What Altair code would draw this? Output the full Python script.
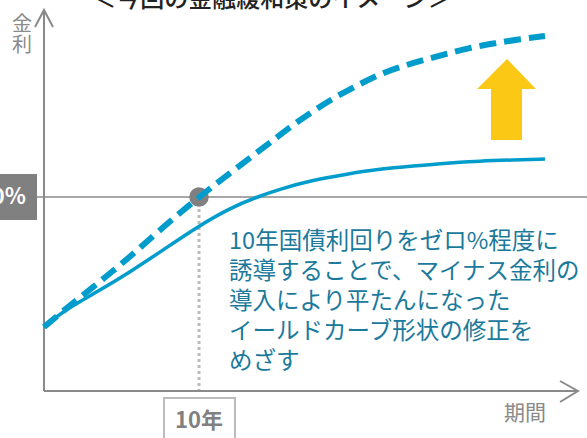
import altair as alt
import pandas as pd

# ---- data (period in years, rate in %) ----
solid_period = [0, 1.23, 3.42, 5.55, 7.68, 9.87, 12.0, 13.74, 15.23, 17.35, 19.55, 21.68, 23.81, 26.0, 28.13, 30.26, 32.32]
solid_rate = [-1.30, -1.14, -0.95, -0.75, -0.53, -0.30, -0.11, 0.0, 0.08, 0.17, 0.23, 0.28, 0.31, 0.34, 0.36, 0.37, 0.38]

dash_period = [0, 1.23, 3.42, 5.55, 7.68, 10.0, 12.0, 14.13, 15.87, 17.35, 18.90, 20.39, 21.68, 23.16, 24.71, 26.19, 27.68, 29.23, 30.71, 32.32]
dash_rate = [-1.30, -1.14, -0.87, -0.60, -0.30, 0.0, 0.24, 0.49, 0.70, 0.86, 1.01, 1.13, 1.23, 1.31, 1.38, 1.44, 1.50, 1.54, 1.58, 1.61]

point_period = [10.0]
point_rate = [0.0]

note_lines = [
    "10年国債利回りをゼロ%程度に",
    "誘導することで、マイナス金利の",
    "導入により平たんになった",
    "イールドカーブ形状の修正を",
    "めざす",
]
note_rate = [-0.45, -0.75, -1.05, -1.35, -1.65]
note_period = 11.94

title_text = "＜今回の金融緩和策のイメージ＞"
x_label = "期間"
y_label = ["金", "利"]
zero_label = "0%"
tick_label = "10年"

# frame geometry in data units
x_min, x_max = -2.839, 35.032
y_min, y_max = -2.41, 1.97
axis_x_end = 34.45
axis_y_bottom = -1.94
axis_y_top = 1.87

BLUE = "#009CCB"
GRAY = "#8a8a8a"
TEXT_BLUE = "#1b7a9c"
FONT = "Noto Sans CJK JP"

xs = alt.Scale(domain=[x_min, x_max], nice=False, zero=False)
ys = alt.Scale(domain=[y_min, y_max], nice=False, zero=False)


def X(f="x"):
    return alt.X(f, type="quantitative", scale=xs, axis=None)


def Y(f="y"):
    return alt.Y(f, type="quantitative", scale=ys, axis=None)


# zero line
zero_line = alt.Chart(pd.DataFrame({"x": [-0.45, x_max], "y": [0, 0]})).mark_line(
    color=GRAY, strokeWidth=1.5).encode(x=X(), y=Y())

# 0% box
zero_box = alt.Chart(pd.DataFrame({"x": [x_min], "x2": [-0.45], "y": [0.23], "y2": [-0.23]})).mark_rect(
    color="#808080").encode(x=X(), x2="x2", y=Y(), y2="y2")
zero_text = alt.Chart(pd.DataFrame({"x": [-1.16], "y": [0.0], "t": [zero_label]})).mark_text(
    align="right", baseline="middle", font=FONT, fontSize=22, fontWeight="bold", color="white"
).encode(x=X(), y=Y(), text="t:N")

# axes with arrows
y_axis = alt.Chart(pd.DataFrame({"x": [0, 0], "y": [axis_y_bottom, axis_y_top]})).mark_line(
    color=GRAY, strokeWidth=2).encode(x=X(), y=Y())
y_arrow = alt.Chart(pd.DataFrame({"x": [-0.58, 0, 0.58], "y": [1.70, axis_y_top, 1.70], "o": [0, 1, 2]})).mark_line(
    color=GRAY, strokeWidth=2).encode(x=X(), y=Y(), order="o:Q")
x_axis = alt.Chart(pd.DataFrame({"x": [0, axis_x_end], "y": [axis_y_bottom, axis_y_bottom]})).mark_line(
    color=GRAY, strokeWidth=2).encode(x=X(), y=Y())
x_arrow = alt.Chart(pd.DataFrame({"x": [33.29, axis_x_end, 33.29], "y": [-1.84, axis_y_bottom, -2.05], "o": [0, 1, 2]})).mark_line(
    color=GRAY, strokeWidth=2).encode(x=X(), y=Y(), order="o:Q")

# dotted guide at 10 years
guide = alt.Chart(pd.DataFrame({"x": [10, 10], "y": [-0.12, -1.98]})).mark_line(
    color="#bbbbbb", strokeWidth=3, strokeDash=[3, 3]).encode(x=X(), y=Y())

# 10年 box
tick_box = alt.Chart(pd.DataFrame({"x": [7.74], "x2": [12.32], "y": [-2.01], "y2": [-2.7]})).mark_rect(
    fill="white", stroke="#bbbbbb", strokeWidth=2).encode(x=X(), x2="x2", y=Y(), y2="y2")
tick_text = alt.Chart(pd.DataFrame({"x": [10.0], "y": [-2.24], "t": [tick_label]})).mark_text(
    align="center", baseline="middle", font=FONT, fontSize=22, fontWeight="bold", color="#808080"
).encode(x=X(), y=Y(), text="t:N")

# curves
solid = alt.Chart(pd.DataFrame({"x": solid_period, "y": solid_rate})).mark_line(
    color=BLUE, strokeWidth=3.5, interpolate="basis").encode(x=X(), y=Y())
point = alt.Chart(pd.DataFrame({"x": point_period, "y": point_rate})).mark_point(
    filled=True, color="#808080", opacity=1, size=380, shape="circle").encode(x=X(), y=Y())
dashed = alt.Chart(pd.DataFrame({"x": dash_period, "y": dash_rate})).mark_line(
    color=BLUE, strokeWidth=6, strokeDash=[17, 8], interpolate="basis").encode(x=X(), y=Y())

# yellow arrow
arrow_head = alt.Chart(pd.DataFrame({"x": [27.94, 29.87, 31.74], "y": [1.08, 1.38, 1.08], "y2": [1.08, 1.08, 1.08]})).mark_area(
    color="#FBC816", opacity=1).encode(x=X(), y=Y(), y2="y2")
arrow_shaft = alt.Chart(pd.DataFrame({"x": [28.84], "x2": [30.84], "y": [1.09], "y2": [0.57]})).mark_rect(
    color="#FBC816").encode(x=X(), x2="x2", y=Y(), y2="y2")

# texts
note = alt.Chart(pd.DataFrame({"x": [note_period] * len(note_lines), "y": note_rate, "t": note_lines})).mark_text(
    align="left", baseline="middle", font=FONT, fontSize=23.5, color=TEXT_BLUE
).encode(x=X(), y=Y(), text="t:N")
xlab = alt.Chart(pd.DataFrame({"x": [31.03], "y": [-2.17], "t": [x_label]})).mark_text(
    align="center", baseline="middle", font=FONT, fontSize=21, color=GRAY
).encode(x=X(), y=Y(), text="t:N")
ylab = alt.Chart(pd.DataFrame({"x": [-1.42, -1.42], "y": [1.72, 1.51], "t": y_label})).mark_text(
    align="center", baseline="middle", font=FONT, fontSize=20, color=GRAY
).encode(x=X(), y=Y(), text="t:N")
title = alt.Chart(pd.DataFrame({"x": [14.71], "y": [1.90], "t": [title_text]})).mark_text(
    align="center", baseline="alphabetic", font=FONT, fontSize=24, fontWeight=500, color="#222222"
).encode(x=X(), y=Y(), text="t:N")

chart = alt.layer(
    zero_line, zero_box, zero_text, guide, x_axis, x_arrow, y_axis, y_arrow,
    tick_box, tick_text, solid, point, dashed, arrow_head, arrow_shaft,
    note, xlab, ylab, title,
).properties(
    width=587, height=438, padding=0,
    autosize=alt.AutoSizeParams(type="none"),
).configure_view(stroke=None)

chart.save("out.html", embed_options={"renderer": "svg", "actions": False})
